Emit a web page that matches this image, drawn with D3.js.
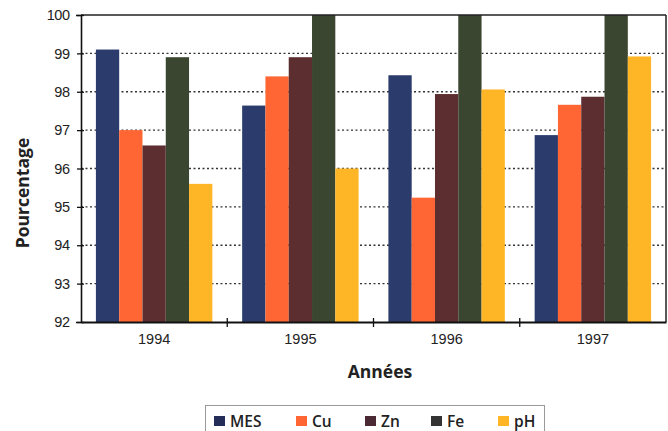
<!DOCTYPE html>
<html>
<head>
<meta charset="utf-8">
<script src="https://cdn.jsdelivr.net/npm/d3@7"></script>
<style>
  html, body { margin: 0; padding: 0; background: #fff; }
  svg { display: block; font-family: "Open Sans", "Lato", sans-serif; }
</style>
</head>
<body>
<svg id="chart" width="668" height="431"></svg>
<script>
// Annual removal efficiency (%) per parameter
const years = ["1994", "1995", "1996", "1997"];
const series = ["MES", "Cu", "Zn", "Fe", "pH"];
const MES = [99.1, 97.64, 98.43, 96.87];
const Cu  = [97.0, 98.4, 95.24, 97.66];
const Zn  = [96.6, 98.9, 97.94, 97.87];
const Fe  = [98.9, 100, 100, 100];
const pH  = [95.6, 96.0, 98.06, 98.92];
const yTicks = [92, 93, 94, 95, 96, 97, 98, 99, 100];

const values = { MES, Cu, Zn, Fe, pH };
const colors = { MES: "#2b3c6c", Cu: "#ff6633", Zn: "#5c2e30", Fe: "#3b4630", pH: "#ffb626" };
const legendColors = { MES: "#232d57", Cu: "#ff6633", Zn: "#4a2834", Fe: "#333333", pH: "#ffb626" };

const svg = d3.select("#chart");
const m = { left: 81, right: 666, top: 15, bottom: 322 };

const x = d3.scaleBand().domain(years).range([m.left, m.right]).paddingInner(0).paddingOuter(0);
const xs = d3.scaleBand().domain(series).range([0, x.bandwidth()]).paddingInner(0).paddingOuter(0.64);
const y = d3.scaleLinear().domain([92, 100]).range([m.bottom, m.top]);

// dotted horizontal gridlines
svg.append("g").selectAll("line")
  .data(yTicks.filter(t => t > 92 && t < 100))
  .join("line")
  .attr("x1", m.left).attr("x2", m.right)
  .attr("y1", d => y(d)).attr("y2", d => y(d))
  .attr("stroke", "#333").attr("stroke-width", 1.3)
  .attr("stroke-dasharray", "2,2.5");

// bars
const groups = svg.append("g").selectAll("g")
  .data(years.map((yr, i) => ({ yr, i })))
  .join("g")
  .attr("transform", d => `translate(${x(d.yr)},0)`);

groups.selectAll("rect")
  .data(d => series.map(s => ({ s, v: values[s][d.i] })))
  .join("rect")
  .attr("x", d => xs(d.s))
  .attr("width", xs.bandwidth())
  .attr("y", d => y(d.v))
  .attr("height", d => y(92) - y(d.v))
  .attr("fill", d => colors[d.s]);

// frame: top and right edges
svg.append("line").attr("x1", m.left).attr("x2", m.right).attr("y1", m.top).attr("y2", m.top)
  .attr("stroke", "#222").attr("stroke-width", 1.5);
svg.append("line").attr("x1", m.right).attr("x2", m.right).attr("y1", m.top).attr("y2", m.bottom)
  .attr("stroke", "#222").attr("stroke-width", 1.5);

// y axis
const yAxis = svg.append("g")
  .attr("transform", `translate(${m.left},0)`)
  .call(d3.axisLeft(y).tickValues(yTicks).tickFormat(d3.format("d")).tickSize(5).tickPadding(6.5));
yAxis.select(".domain").attr("stroke", "#111").attr("stroke-width", 1.6);
yAxis.selectAll(".tick line").attr("stroke", "#111").attr("stroke-width", 1.3).attr("x2", 3).attr("x1", -4);
yAxis.selectAll(".tick text").attr("font-size", 14.5).attr("fill", "#222").attr("letter-spacing", -0.5);

// x axis
const xAxis = svg.append("g")
  .attr("transform", `translate(0,${m.bottom})`)
  .call(d3.axisBottom(x).tickSize(0).tickPadding(12));
xAxis.select(".domain").attr("stroke", "#111").attr("stroke-width", 1.8);
xAxis.selectAll(".tick text").attr("font-size", 14.5).attr("fill", "#222");

// tick marks between year groups
svg.append("g").selectAll("line")
  .data(years.slice(1))
  .join("line")
  .attr("x1", d => x(d)).attr("x2", d => x(d))
  .attr("y1", m.bottom - 4).attr("y2", m.bottom + 5)
  .attr("stroke", "#111").attr("stroke-width", 1.3);

// axis titles
svg.append("text")
  .attr("transform", "translate(29,193) rotate(-90)")
  .attr("text-anchor", "middle")
  .attr("font-size", 17.5).attr("font-weight", "bold").attr("fill", "#222")
  .text("Pourcentage");

svg.append("text")
  .attr("x", 380).attr("y", 378)
  .attr("text-anchor", "middle")
  .attr("font-size", 17.5).attr("font-weight", "bold").attr("fill", "#222")
  .text("Années");

// legend
const legend = svg.append("g");
legend.append("rect")
  .attr("x", 205.5).attr("y", 405.5).attr("width", 339).attr("height", 40)
  .attr("fill", "none").attr("stroke", "#999").attr("stroke-width", 1);

const legendX = [214, 296, 365, 431, 498];
const items = legend.selectAll("g.item")
  .data(series)
  .join("g").attr("class", "item")
  .attr("transform", (d, i) => `translate(${legendX[i]},416)`);
items.append("rect").attr("width", 11).attr("height", 10).attr("fill", d => legendColors[d]);
items.append("text").attr("x", 16).attr("y", 10.5)
  .attr("font-size", 15.5).attr("font-weight", 600).attr("fill", "#222")
  .text(d => d);
</script>
</body>
</html>
